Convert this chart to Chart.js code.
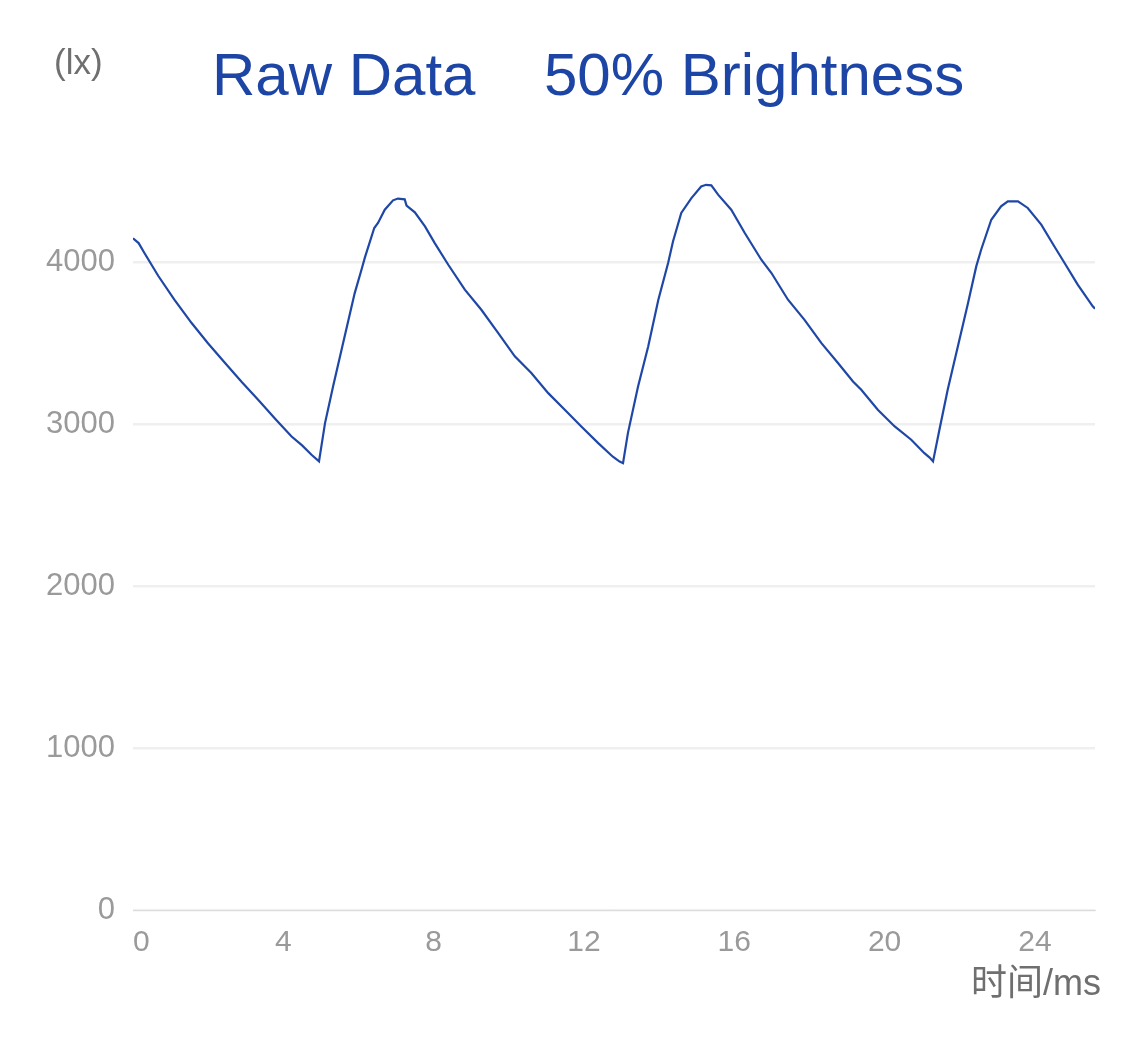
<!DOCTYPE html>
<html>
<head>
<meta charset="utf-8">
<script src="https://cdn.jsdelivr.net/npm/chart.js@4.4.0/dist/chart.umd.min.js"></script>
<style>
  html, body { margin: 0; padding: 0; background: #fff; }
  #wrap { width: 1125px; height: 1040px; }
</style>
</head>
<body>
<div id="wrap"><canvas id="luxChart" width="1125" height="1040"></canvas></div>
<script>
// time (ms) and illuminance (lx)
const timeMs = [
  0.00, 0.15, 0.30, 0.67, 1.10, 1.56, 2.00, 2.45, 2.90, 3.33, 3.80, 4.22, 4.50, 4.75, 4.95,
  5.11, 5.33, 5.55, 5.90, 6.08, 6.17, 6.42, 6.52, 6.70, 6.92, 7.05, 7.23, 7.28, 7.50, 7.77,
  8.03, 8.39, 8.83, 9.27, 9.72, 10.16, 10.60, 11.05, 11.49, 11.93, 12.38, 12.77, 12.95, 13.04,
  13.17, 13.44, 13.71, 13.98, 14.24, 14.37, 14.59, 14.86, 15.12, 15.25, 15.39, 15.57, 15.92,
  16.28, 16.72, 16.99, 17.43, 17.87, 18.32, 18.76, 19.16, 19.38, 19.82, 20.27, 20.71, 21.06,
  21.20, 21.29, 21.46, 21.68, 21.95, 22.22, 22.44, 22.57, 22.84, 23.10, 23.28, 23.55, 23.81,
  24.17, 24.52, 24.79, 25.14, 25.54, 25.60
];
const luxValues = [
  4150, 4120, 4060, 3918, 3770, 3626, 3500, 3379, 3260, 3152, 3030, 2925, 2870, 2812, 2771,
  3008, 3240, 3461, 3811, 3955, 4030, 4213, 4244, 4326, 4384, 4395, 4390, 4351, 4310, 4223,
  4120, 3986, 3832, 3708, 3564, 3420, 3317, 3193, 3090, 2987, 2884, 2800, 2770, 2760,
  2946, 3234, 3481, 3770, 3997, 4130, 4306, 4398, 4470, 4480, 4477, 4419, 4326,
  4182, 4017, 3935, 3770, 3646, 3502, 3379, 3265, 3214, 3090, 2987, 2905, 2822,
  2795, 2771, 2967, 3214, 3481, 3749, 3976, 4079, 4264, 4347, 4378, 4378, 4337,
  4234, 4099, 3997, 3863, 3729, 3715
];
const yTicks = [0, 1000, 2000, 3000, 4000];
const xTicks = [0, 4, 8, 12, 16, 20, 24];

const titleLeft = "Raw Data";
const titleRight = "50% Brightness";
const yUnit = "(lx)";
const xUnit = "时间/ms";

const points = timeMs.map((t, i) => ({ x: t, y: luxValues[i] }));

// extra texts: title, units
const textPlugin = {
  id: 'texts',
  afterDraw(chart) {
    const c = chart.ctx;
    c.save();
    c.textBaseline = 'alphabetic';
    c.fillStyle = '#1d45a5';
    c.font = '60px "Liberation Sans", Arial, sans-serif';
    c.textAlign = 'left';
    c.fillText(titleLeft, 212, 95);
    c.fillText(titleRight, 544, 95);

    c.fillStyle = '#6f6f6f';
    c.font = '35px "Liberation Sans", Arial, sans-serif';
    c.fillText(yUnit, 54, 74);

    c.textAlign = 'right';
    c.font = '36px "Liberation Sans", "Noto Sans CJK SC", sans-serif';
    c.fillText(xUnit, 1101, 995);
    c.restore();
  }
};

new Chart(document.getElementById('luxChart').getContext('2d'), {
  type: 'line',
  data: {
    datasets: [{
      data: points,
      borderColor: '#1f47a6',
      borderWidth: 2.2,
      pointRadius: 0,
      tension: 0,
      fill: false
    }]
  },
  options: {
    responsive: false,
    animation: false,
    layout: { padding: { top: 133, right: 30, left: 0, bottom: 0 } },
    plugins: {
      legend: { display: false },
      tooltip: { enabled: false },
      title: { display: false }
    },
    scales: {
      x: {
        type: 'linear',
        min: 0,
        max: 25.6,
        afterBuildTicks: axis => { axis.ticks = xTicks.map(v => ({ value: v })); },
        afterFit: axis => { axis.height = 130; },
        grid: { display: false, drawTicks: false },
        border: { display: true, color: '#dcdcdc', width: 1 },
        ticks: {
          color: '#9a9a9a',
          padding: 15,
          font: { size: 30, family: '"Liberation Sans", Arial, sans-serif' },
          maxRotation: 0,
          callback: v => (v === 0 ? '  0' : String(v))
        }
      },
      y: {
        min: 0,
        max: 4800,
        afterBuildTicks: axis => { axis.ticks = yTicks.map(v => ({ value: v })); },
        afterFit: axis => { axis.width = 133; },
        grid: { color: '#efefef', lineWidth: 2.5, drawTicks: false },
        border: { display: false },
        ticks: {
          color: '#9a9a9a',
          padding: 18,
          font: { size: 31, family: '"Liberation Sans", Arial, sans-serif' },
          callback: v => String(v)
        }
      }
    }
  },
  plugins: [textPlugin]
});
</script>
</body>
</html>
